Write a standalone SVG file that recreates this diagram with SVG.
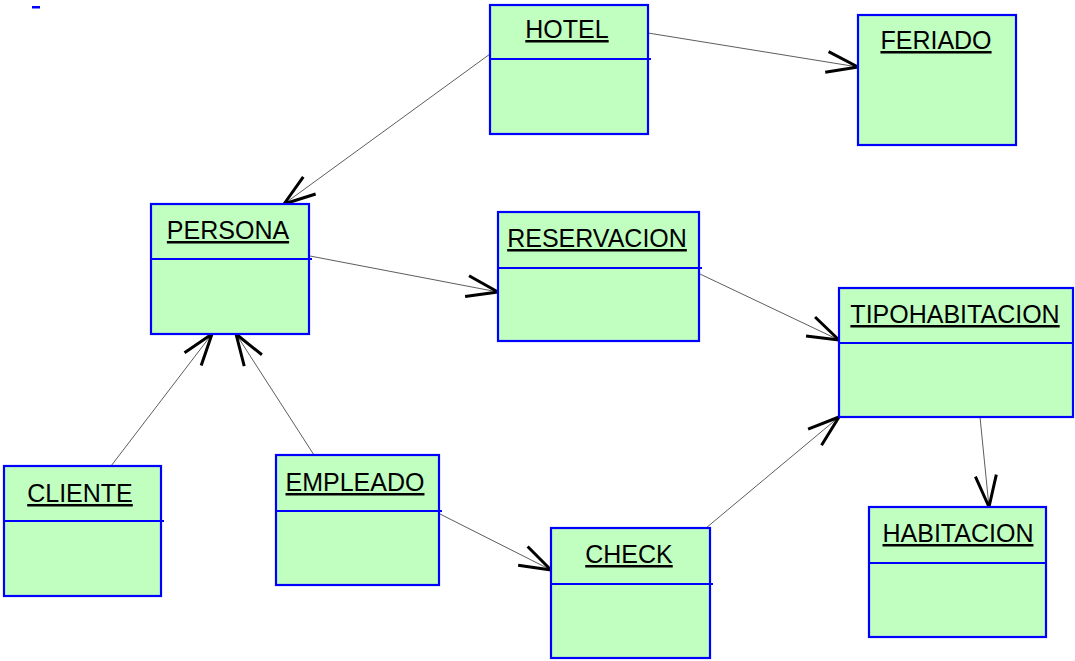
<svg xmlns="http://www.w3.org/2000/svg" width="1075" height="661" viewBox="0 0 1075 661">
<style>
.box{fill:#c0ffc0;stroke:#0000ff;stroke-width:2.2}
.div{stroke:#0000ff;stroke-width:2.2}
.lbl{font-family:"Liberation Sans",Arial,sans-serif;font-size:25px;fill:#000;text-anchor:middle;text-decoration:underline}
.con{fill:none;stroke:#333;stroke-width:0.8}
</style>
<defs>
<marker id="arr" markerUnits="userSpaceOnUse" viewBox="-40 -20 50 40" refX="0" refY="0" markerWidth="50" markerHeight="40" orient="auto" overflow="visible">
<path d="M -31.5 -10.5 L 0 0 L -31.5 10.5" fill="none" stroke="#000" stroke-width="3" stroke-linejoin="round"/>
</marker>
</defs>
<rect x="32" y="6" width="8" height="2.5" fill="#0000ff"/>
<g id="connectors">
<line class="con" x1="648" y1="33" x2="858" y2="67" marker-end="url(#arr)"/>
<line class="con" x1="490" y1="54" x2="284" y2="204" marker-end="url(#arr)"/>
<line class="con" x1="310" y1="256" x2="498" y2="292" marker-end="url(#arr)"/>
<line class="con" x1="700" y1="274" x2="839" y2="340" marker-end="url(#arr)"/>
<line class="con" x1="111" y1="466" x2="212" y2="334" marker-end="url(#arr)"/>
<line class="con" x1="314" y1="455" x2="236" y2="334" marker-end="url(#arr)"/>
<line class="con" x1="440" y1="514" x2="551" y2="570" marker-end="url(#arr)"/>
<line class="con" x1="706" y1="528" x2="839" y2="417" marker-end="url(#arr)"/>
<line class="con" x1="980" y1="417" x2="989" y2="507" marker-end="url(#arr)"/>
</g>
<g id="hotel">
<rect class="box" x="490" y="5" width="158" height="129"/>
<line class="div" x1="490" y1="59" x2="651" y2="59"/>
<text class="lbl" x="567" y="38">HOTEL</text>
</g>
<g id="feriado">
<rect class="box" x="858" y="15" width="158" height="130"/>
<text class="lbl" x="936" y="49">FERIADO</text>
</g>
<g id="persona">
<rect class="box" x="151" y="204" width="158" height="130"/>
<line class="div" x1="151" y1="259" x2="312" y2="259"/>
<text class="lbl" x="228" y="239">PERSONA</text>
</g>
<g id="reservacion">
<rect class="box" x="498" y="212" width="201" height="129"/>
<line class="div" x1="498" y1="268" x2="702" y2="268"/>
<text class="lbl" x="597" y="247">RESERVACION</text>
</g>
<g id="tipohabitacion">
<rect class="box" x="839" y="288" width="234" height="129"/>
<line class="div" x1="839" y1="343" x2="1074" y2="343"/>
<text class="lbl" x="955" y="323">TIPOHABITACION</text>
</g>
<g id="cliente">
<rect class="box" x="4" y="466" width="157" height="130"/>
<line class="div" x1="4" y1="521" x2="164" y2="521"/>
<text class="lbl" x="80" y="502">CLIENTE</text>
</g>
<g id="empleado">
<rect class="box" x="276" y="455" width="163" height="130"/>
<line class="div" x1="276" y1="511" x2="442" y2="511"/>
<text class="lbl" x="355" y="491">EMPLEADO</text>
</g>
<g id="check">
<rect class="box" x="551" y="528" width="159" height="130"/>
<line class="div" x1="551" y1="584" x2="713" y2="584"/>
<text class="lbl" x="629" y="563">CHECK</text>
</g>
<g id="habitacion">
<rect class="box" x="869" y="507" width="177" height="130"/>
<line class="div" x1="869" y1="563" x2="1046" y2="563"/>
<text class="lbl" x="958" y="542">HABITACION</text>
</g>
</svg>
